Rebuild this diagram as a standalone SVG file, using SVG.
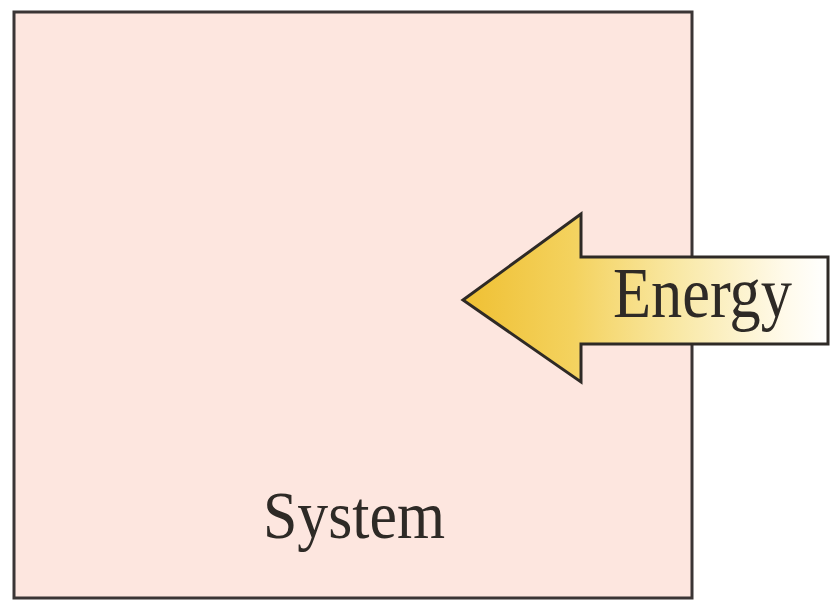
<svg xmlns="http://www.w3.org/2000/svg" width="830" height="600" viewBox="0 0 830 600">
<defs>
<linearGradient id="gold" gradientUnits="userSpaceOnUse" x1="463" y1="0" x2="828" y2="0">
<stop offset="0" stop-color="#efc033"/>
<stop offset="0.3" stop-color="#f4d25e"/>
<stop offset="0.6" stop-color="#f9e9a8"/>
<stop offset="0.88" stop-color="#fffaea"/>
<stop offset="1" stop-color="#ffffff"/>
</linearGradient>
</defs>
<style>
.lbl{font-family:"Liberation Serif","Times New Roman",serif;fill:#2e2a26}
</style>
<rect width="830" height="600" fill="#ffffff"/>
<g id="system">
<rect x="14" y="12" width="678" height="586" fill="#fde6df" stroke="#3a3535" stroke-width="3"/>
<text class="lbl" x="263" y="538" font-size="68" textLength="182" lengthAdjust="spacingAndGlyphs">System</text>
</g>
<g id="connectors">
<g id="energy">
<polygon points="463,300 581,214 581,257 828,257 828,344 581,344 581,382" fill="url(#gold)" stroke="#2e2a26" stroke-width="3" stroke-linejoin="miter"/>
<text class="lbl" x="613" y="317" font-size="72" textLength="179" lengthAdjust="spacingAndGlyphs">Energy</text>
</g>
</g>
</svg>
